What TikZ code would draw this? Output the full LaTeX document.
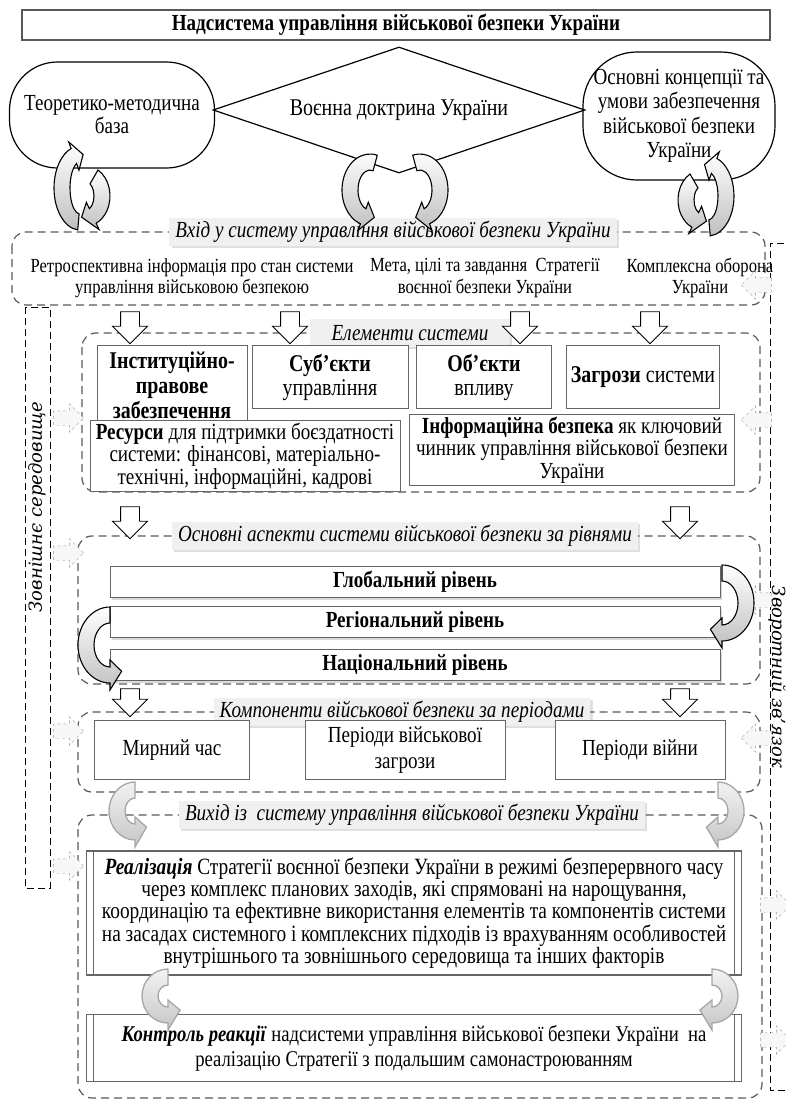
\documentclass[tikz,border=0pt]{standalone}
\usepackage{fontspec}
\setmainfont{Liberation Serif}[FakeStretch=0.83]
\newfontfamily\sidefont{DejaVu Serif}
\usetikzlibrary{shapes.geometric,shapes.arrows,shadows}

\newcommand\bentarrow[6][]{%
  \pgfmathsetmacro\bendtip{#6+((#6>#5)*2-1)*780/(0.5*(#3+#4))}%
  \draw[bent,#1,shift={(#2)}] (#5:#3+8 and #4+8)
    arc[start angle=#5,end angle=#6,x radius=#3+8,y radius=#4+8]
    -- (#6:#3+15 and #4+15) -- (\bendtip:#3 and #4) -- (#6:#3-15 and #4-15)
    -- (#6:#3-8 and #4-8)
    arc[start angle=#6,end angle=#5,x radius=#3-8,y radius=#4-8] -- cycle;}

\tikzset{
  box/.style={draw=gray!80!black, line width=1pt, fill=white, align=center, inner sep=2pt},
  frame/.style={draw=gray!70!black, line width=1.2pt, dash pattern=on 8pt off 5pt, rounded corners=14pt},
  caption/.style={fill=gray!12, drop shadow={opacity=0.25}, font=\itshape\fontsize{23}{24}\selectfont, minimum height=28pt, inner xsep=6pt},
  level/.style={box, minimum width=610pt, minimum height=31pt, font=\bfseries\fontsize{23}{24}\selectfont, drop shadow={opacity=0.3}},
  downarrow/.style={single arrow, draw, line width=0.9pt, fill=white, rotate=-90, minimum height=32pt, inner sep=0pt, inner ysep=9pt, single arrow head extend=8pt},
  sidearrow/.style={single arrow, draw=gray!80, dashed, fill=gray!6, minimum height=30pt, inner sep=0pt, inner ysep=7pt, single arrow head extend=7pt},
  bent/.style={draw, line width=1.1pt, top color=white, bottom color=gray!50},
  paler/.style={draw=gray!70, line width=1.3pt, top color=gray!10, bottom color=gray!45},
}

\begin{document}
\begin{tikzpicture}[x=1pt,y=-1pt,font=\fontsize{23}{22.5}\selectfont]
\useasboundingbox (0,0) rectangle (786,1101);
\clip (0,0) rectangle (786,1101);

\node[box, draw=gray!70!black, line width=1.6pt, minimum width=748pt, minimum height=30pt, font=\bfseries\fontsize{23}{24}\selectfont] (supersys) at (396,25) {Надсистема управління військової безпеки України};
\node[draw, line width=1.2pt, rounded corners=48pt, minimum width=205pt, minimum height=106pt, align=center, font=\fontsize{23}{23}\selectfont] (theory) at (112,115) {Теоретико-методична\\база};
\node[draw, line width=1.2pt, rounded corners=54pt, minimum width=192pt, minimum height=128pt, align=center, font=\fontsize{23}{24.5}\selectfont] (concepts) at (679,116) {Основні концепції та\\умови забезпечення\\військової безпеки\\України};
\node[diamond, draw, line width=1.2pt, aspect=3, minimum width=372pt, minimum height=126pt, inner sep=0pt, font=\fontsize{24}{24}\selectfont] (doctrine) at (399,110) {Воєнна доктрина України};

\draw[dash pattern=on 7pt off 4pt, line width=0.8pt] (25,307) rectangle (50,888);
\node[rotate=90, font=\sidefont\itshape\fontsize{18}{18}\selectfont] (outer) at (37,507) {Зовнішнє середовище};
\draw[dash pattern=on 7pt off 4pt, line width=0.8pt] (795,243) -- (770,243) -- (770,1090) -- (795,1090);
\node[rotate=-90, font=\sidefont\itshape\fontsize{18}{18}\selectfont] (feedback) at (777,677) {Зворотний зв’язок};

\draw[frame] (12,232) rectangle (765,305);
\node[caption] (incap) at (393,232) {Вхід у систему управління військової безпеки України};
\node[align=center, font=\fontsize{20}{21.5}\selectfont] (retro) at (192,278) {Ретроспективна інформація про стан системи\\управління військовою безпекою};
\node[align=center, font=\fontsize{20}{21.5}\selectfont] (goals) at (485,278) {Мета, цілі та завдання~ Стратегії\\воєнної безпеки України};
\node[align=center, font=\fontsize{20}{21.5}\selectfont] (defence) at (700,278) {Комплексна оборона\\України};

\draw[frame] (82,333) rectangle (760,492);
\node[caption, minimum width=200pt] (elcap) at (410,333) {Елементи системи};
\node[box, minimum width=150pt, minimum height=80pt, font=\bfseries\fontsize{24}{25}\selectfont] (inst) at (172,385) {Інституційно-\\правове\\забезпечення};
\node[box, minimum width=156pt, minimum height=63pt, font=\fontsize{24}{24}\selectfont] (subj) at (330,377) {\textbf{Суб’єкти}\\управління};
\node[box, minimum width=135pt, minimum height=63pt, font=\fontsize{24}{24}\selectfont] (obj) at (484,377) {\textbf{Об’єкти}\\впливу};
\node[box, minimum width=153pt, minimum height=63pt, font=\fontsize{24}{24}\selectfont] (threat) at (643,377) {\textbf{Загрози} системи};
\node[box, minimum width=310pt, minimum height=64pt] (res) at (245,456) {\textbf{Ресурси} для підтримки боєздатності\\системи: фінансові, матеріально-\\технічні, інформаційні, кадрові};
\node[box, minimum width=325pt, minimum height=64pt] (info) at (572,450) {\textbf{Інформаційна безпека} як ключовий\\чинник управління військової безпеки\\України};

\draw[frame] (78,536) rectangle (760,684);
\node[caption] (lvcap) at (405,536) {Основні аспекти системи військової безпеки за рівнями};
\node[level] (global) at (415,582) {Глобальний рівень};
\node[level] (regional) at (415,622) {Регіональний рівень};
\node[level] (national) at (415,665) {Національний рівень};

\draw[frame] (78,712) rectangle (760,792);
\node[caption] (cpcap) at (402,712) {Компоненти військової безпеки за періодами};
\node[box, minimum width=155pt, minimum height=59pt] (peace) at (172,750) {Мирний час};
\node[box, minimum width=200pt, minimum height=59pt, font=\fontsize{23}{26}\selectfont] (threatper) at (405,750) {Періоди військової\\загрози};
\node[box, minimum width=170pt, minimum height=59pt] (war) at (640,750) {Періоди війни};

\draw[frame] (78,815) rectangle (762,1098);
\node[caption] (outcap) at (412,815) {Вихід із~ систему управління військової безпеки України};
\node[box, line width=1.6pt, minimum width=655pt, minimum height=124pt, font=\fontsize{23.3}{22.3}\selectfont] (realise) at (414,913) {\textbf{\textit{Реалізація}} Стратегії воєнної безпеки України в режимі безперервного часу\\через комплекс планових заходів, які спрямовані на нарощування,\\координацію та ефективне використання елементів та компонентів системи\\на засадах системного і комплексних підходів із врахуванням особливостей\\внутрішнього та зовнішнього середовища та інших факторів};
\draw[line width=1pt, gray!80!black] ([xshift=8pt]realise.north west) -- ([xshift=8pt]realise.south west) ([xshift=-8pt]realise.north east) -- ([xshift=-8pt]realise.south east);
\node[box, line width=1.6pt, minimum width=655pt, minimum height=67pt, font=\fontsize{22.5}{25}\selectfont] (control) at (414,1048) {\textbf{\textit{Контроль реакції}} надсистеми управління військової безпеки України~ на\\реалізацію Стратегії з подальшим самонастроюванням};
\draw[line width=1pt, gray!80!black] ([xshift=8pt]control.north west) -- ([xshift=8pt]control.south west) ([xshift=-8pt]control.north east) -- ([xshift=-8pt]control.south east);

\node[downarrow] (inA) at (130,323) {};
\node[downarrow] (inB) at (290,323) {};
\node[downarrow] (inC) at (520,323) {};
\node[downarrow] (inD) at (650,323) {};
\node[downarrow] (elA) at (130,518) {};
\node[downarrow] (elB) at (680,518) {};
\node[downarrow, minimum height=28pt] (lvA) at (130,698) {};
\node[downarrow, minimum height=28pt] (lvB) at (680,698) {};

\node[sidearrow] (envA) at (65,418) {};
\node[sidearrow] (envB) at (65,553) {};
\node[sidearrow] (envC) at (65,731) {};
\node[sidearrow] (envD) at (65,866) {};
\node[sidearrow, rotate=180] (backA) at (760,285) {};
\node[sidearrow, rotate=180] (backB) at (760,420) {};
\node[sidearrow, rotate=180] (backC) at (760,600) {};
\node[sidearrow, rotate=180] (backD) at (760,738) {};
\node[sidearrow] (backE) at (772,905) {};
\node[sidearrow] (backF) at (772,1040) {};

\bentarrow{80,188}{18}{34}{95}{250}
\bentarrow{86,196}{16}{22}{300}{425}
\bentarrow{370,190}{20}{28}{285}{110}
\bentarrow{420,190}{20}{28}{255}{430}
\bentarrow{708,196}{18}{32}{85}{-70}
\bentarrow{702,200}{16}{22}{240}{115}
\bentarrow{722,603}{24}{30}{270}{450}
\bentarrow{110,645}{24}{30}{270}{90}
\bentarrow[paler]{135,811}{18}{21}{270}{90}
\bentarrow[paler]{718,811}{18}{21}{270}{450}
\bentarrow[paler]{168,996}{18}{19}{270}{90}
\bentarrow[paler]{712,996}{18}{19}{270}{450}
\end{tikzpicture}
\end{document}
